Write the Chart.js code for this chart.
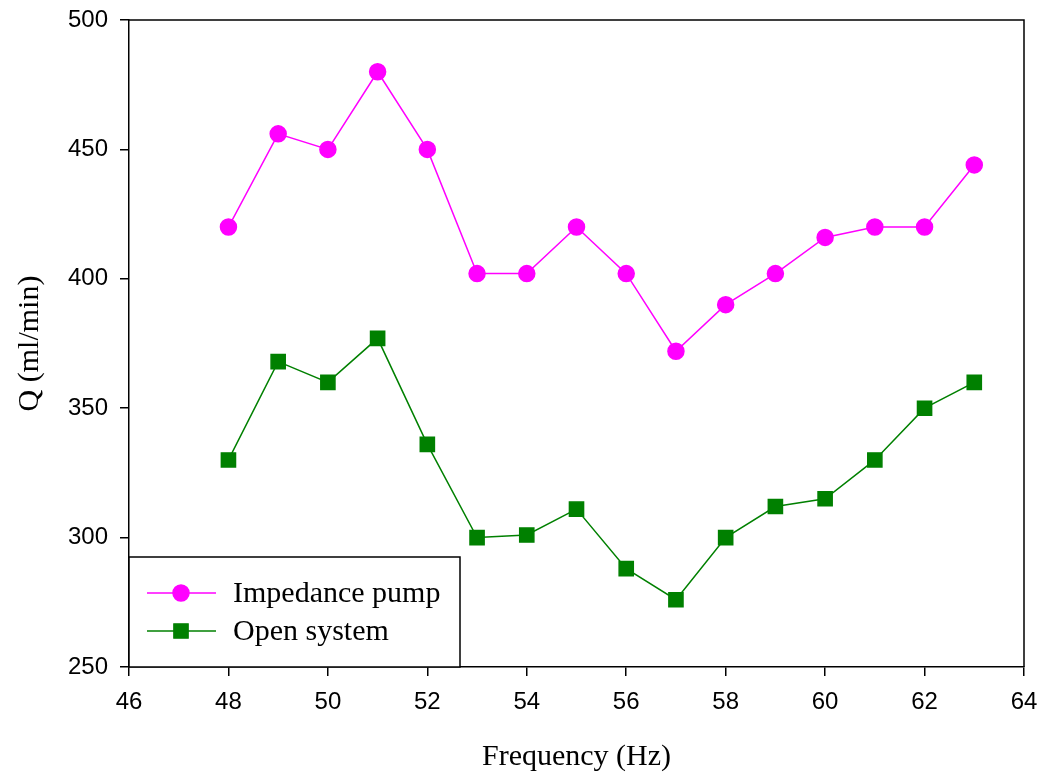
<!DOCTYPE html>
<html>
<head>
<meta charset="utf-8">
<script src="https://cdn.jsdelivr.net/npm/chart.js@4"></script>
<style>
  html, body { margin: 0; padding: 0; background: #fff; }
  #wrap { width: 1043px; height: 778px; }
</style>
</head>
<body>
<div id="wrap"><canvas id="qChart" width="1043" height="778"></canvas></div>
<script>
const frequency = [48, 49, 50, 51, 52, 53, 54, 55, 56, 57, 58, 59, 60, 61, 62, 63];
const impedancePump = [420, 456, 450, 480, 450, 402, 402, 420, 402, 372, 390, 402, 416, 420, 420, 444];
const openSystem = [330, 368, 360, 377, 336, 300, 301, 311, 288, 276, 300, 312, 315, 330, 350, 360];
const xTicks = [46, 48, 50, 52, 54, 56, 58, 60, 62, 64];
const yTicks = [250, 300, 350, 400, 450, 500];

const toPoints = (ys) => frequency.map((f, i) => ({ x: f, y: ys[i] }));

// frame on top/right plus the boxed legend in the lower left corner
const framePlugin = {
  id: "frame",
  afterDatasetsDraw(chart) {
    const { ctx, chartArea: a } = chart;
    ctx.save();
    ctx.strokeStyle = "#000";
    ctx.lineWidth = 1.5;
    ctx.beginPath();
    ctx.moveTo(a.left, a.top);
    ctx.lineTo(a.right, a.top);
    ctx.lineTo(a.right, a.bottom);
    ctx.stroke();

    const box = { left: a.left, top: 557, right: 460, bottom: a.bottom };
    ctx.fillStyle = "#fff";
    ctx.fillRect(box.left, box.top, box.right - box.left, box.bottom - box.top);
    ctx.lineWidth = 1.5;
    ctx.strokeRect(box.left, box.top, box.right - box.left, box.bottom - box.top);

    const rows = [593, 631];
    chart.data.datasets.forEach((ds, i) => {
      const y = rows[i];
      ctx.strokeStyle = ds.borderColor;
      ctx.lineWidth = 1.5;
      ctx.beginPath();
      ctx.moveTo(147, y);
      ctx.lineTo(216, y);
      ctx.stroke();
      Chart.helpers.drawPoint(ctx, {
        pointStyle: ds.pointStyle, radius: ds.pointRadius, borderWidth: 1
      }, 181, y);
      ctx.fillStyle = ds.pointBackgroundColor;
      ctx.fill();
      ctx.fillStyle = "#000";
      ctx.font = "30px 'Liberation Serif', 'Times New Roman', serif";
      ctx.textBaseline = "middle";
      ctx.fillText(ds.label, 233, y + 1);
    });
    ctx.restore();
  }
};

new Chart(document.getElementById("qChart"), {
  type: "line",
  data: {
    datasets: [
      {
        label: "Impedance pump",
        data: toPoints(impedancePump),
        borderColor: "#ff00ff",
        backgroundColor: "#ff00ff",
        pointBackgroundColor: "#ff00ff",
        pointBorderColor: "#ff00ff",
        pointStyle: "circle",
        pointRadius: 8,
        borderWidth: 1.5,
        tension: 0
      },
      {
        label: "Open system",
        data: toPoints(openSystem),
        borderColor: "#008000",
        backgroundColor: "#008000",
        pointBackgroundColor: "#008000",
        pointBorderColor: "#008000",
        pointStyle: "rect",
        pointRadius: 10,
        borderWidth: 1.5,
        tension: 0
      }
    ]
  },
  options: {
    responsive: false,
    animation: false,
    layout: { padding: { top: 20, right: 19, left: 0, bottom: 0 } },
    plugins: { legend: { display: false }, tooltip: { enabled: false } },
    scales: {
      x: {
        type: "linear",
        min: 46,
        max: 64,
        afterBuildTicks: (s) => { s.ticks = xTicks.map((v) => ({ value: v })); },
        afterFit: (s) => {
          s.height = 111;
          s.paddingLeft = 0;
          s.paddingRight = 0;
        },
        ticks: {
          color: "#000",
          font: { family: "'Liberation Sans', Arial, sans-serif", size: 24 },
          padding: 12,
          maxRotation: 0
        },
        grid: { drawOnChartArea: false, drawTicks: true, tickLength: 9, color: "#000", lineWidth: 1.5 },
        border: { color: "#000", width: 1.5 },
        title: {
          display: true,
          text: "Frequency (Hz)",
          color: "#000",
          font: { family: "'Liberation Serif', 'Times New Roman', serif", size: 30 },
          padding: { top: 0, bottom: 3 }
        }
      },
      y: {
        min: 250,
        max: 500,
        afterBuildTicks: (s) => { s.ticks = yTicks.map((v) => ({ value: v })); },
        afterFit: (s) => {
          s.width = 129;
          s.paddingTop = 0;
          s.paddingBottom = 0;
        },
        ticks: {
          color: "#000",
          font: { family: "'Liberation Sans', Arial, sans-serif", size: 24 },
          padding: 12
        },
        grid: { drawOnChartArea: false, drawTicks: true, tickLength: 9, color: "#000", lineWidth: 1.5 },
        border: { color: "#000", width: 1.5 },
        title: {
          display: true,
          text: "Q (ml/min)",
          color: "#000",
          font: { family: "'Liberation Serif', 'Times New Roman', serif", size: 30 },
          padding: { top: 12, bottom: 0 }
        }
      }
    }
  },
  plugins: [framePlugin]
});
</script>
</body>
</html>
